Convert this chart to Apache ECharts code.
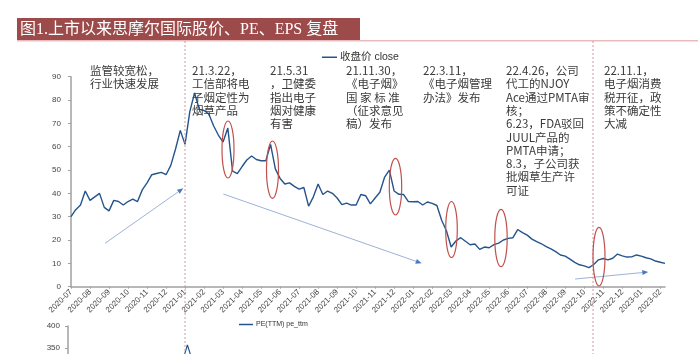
<!DOCTYPE html>
<html>
<head>
<meta charset="utf-8">
<script src="https://cdn.jsdelivr.net/npm/echarts@6/dist/echarts.min.js"></script>
<style>
html,body{margin:0;padding:0;background:#fff}
#main{width:698px;height:354px}
</style>
</head>
<body>
<div id="main"></div>
<script>
// month tick labels on the x axis
var months = ['2020-07','2020-08','2020-09','2020-10','2020-11','2020-12',
  '2021-01','2021-02','2021-03','2021-04','2021-05','2021-06','2021-07','2021-08','2021-09','2021-10','2021-11','2021-12',
  '2022-01','2022-02','2022-03','2022-04','2022-05','2022-06','2022-07','2022-08','2022-09','2022-10','2022-11','2022-12',
  '2023-01','2023-02'];
var sampleDays = ['01','08','16','23'];
var lastDays = ['01','08'];

// 收盘价 close, four readings per month
var closePrice = [30,33,35,41,37,38.5,40,34,32.5,37,
  36.5,35,36.5,37.5,36.5,41.5,44.5,48,48.5,49,
  48,52,59,67,61,75,83,76,75.5,74,
  69,65,62,68,49.5,48.5,51.5,54.3,56,54.5,
  54,54,61,50.5,46.4,44,44.5,43,41.8,42.5,
  34.5,38.5,44,39.5,41,40,38,35.2,35.8,35,
  35,39.5,39,35.5,38,40.5,47,50,41,39.6,
  39.5,36.5,36.4,36.5,35,36.3,35.7,34.8,28.5,24,
  17,19.6,21,19.5,18,18.3,16,17,16.7,18,
  18.7,20,20.7,21,24.5,23.2,22.1,20.4,19.3,18.4,
  17.2,16.2,15,13.6,13.1,11.8,10.4,9.4,8.9,8.2,
  9.5,11.5,12.1,11.5,12.2,14,13.2,12.7,12.8,13.6,
  13.1,12.4,11.9,11,10.5,10];

// PE(TTM) pe_ttm, only the top of it shows at the bottom edge
var peDates = ['2021-01-01','2021-01-08','2021-01-16'];
var peTtm = [320,357,322];
var peTicks = [350, 400];

var dates = [];
months.forEach(function (m, k) {
  var days = k === months.length - 1 ? lastDays : sampleDays;
  days.forEach(function (d) { dates.push(m + '-' + d); });
});

var cjk = '"Noto Sans CJK SC"';
var noteColor = '#3a3a3a';

function note(x, y, txt) {
  return {
    type: 'text', z: 50,
    style: { x: x, y: y, text: txt, fill: noteColor, fontSize: 11.5, fontFamily: cjk, lineHeight: 13.3, verticalAlign: 'top' }
  };
}
function ring(cx, cy, rx, ry) {
  return { type: 'ellipse', z: 50, shape: { cx: cx, cy: cy, rx: rx, ry: ry },
    style: { fill: 'none', stroke: '#c0504d', lineWidth: 1.2 } };
}
function arrow(x1, y1, x2, y2) {
  var a = Math.atan2(y2 - y1, x2 - x1), L = 6, w = 2.5;
  var bx = x2 - L * Math.cos(a), by = y2 - L * Math.sin(a);
  return [
    { type: 'line', z: 40, shape: { x1: x1, y1: y1, x2: bx, y2: by }, style: { stroke: '#9db3d6', lineWidth: 1 } },
    { type: 'polygon', z: 40, shape: { points: [[x2, y2],
      [bx + w * Math.sin(a), by - w * Math.cos(a)], [bx - w * Math.sin(a), by + w * Math.cos(a)]] },
      style: { fill: '#4a78c2' } }
  ];
}
function vline(x) {
  return { type: 'line', z: 30, shape: { x1: x, y1: 41, x2: x, y2: 354 },
    style: { stroke: '#cf9a9a', lineWidth: 1, lineDash: [2, 2] } };
}

var graphics = [
  { type: 'rect', shape: { x: 17, y: 18, width: 343, height: 22 }, style: { fill: '#9c4a4a' } },
  { type: 'rect', shape: { x: 17, y: 40, width: 681, height: 1.5 }, style: { fill: '#e8bcbc' } },
  { type: 'text', style: { x: 20, y: 29.5, text: '图1.上市以来思摩尔国际股价、PE、EPS 复盘', fill: '#fff',
    fontSize: 16, fontFamily: '"Liberation Serif",' + cjk, verticalAlign: 'middle' } },
  vline(185), vline(593),
  note(90, 64, '监管较宽松，\n行业快速发展'),
  note(192, 64, '21.3.22，\n工信部将电\n子烟定性为\n烟草产品'),
  note(270, 64, '21.5.31\n，卫健委\n指出电子\n烟对健康\n有害'),
  note(346, 64, '21.11.30，\n《电子烟》\n国 家 标 准\n（征求意见\n稿）发布'),
  note(423, 64, '22.3.11，\n《电子烟管理\n办法》发布'),
  note(506, 64, '22.4.26，公司\n代工的NJOY\nAce通过PMTA审\n核；\n6.23，FDA驳回\nJUUL产品的\nPMTA申请；\n8.3，子公司获\n批烟草生产许\n可证'),
  note(604, 64, '22.11.1，\n电子烟消费\n税开征，政\n策不确定性\n大减'),
  ring(228, 149.5, 6, 28.5),
  ring(272.5, 169.7, 6, 28.7),
  ring(395.5, 186.7, 6.2, 28.3),
  ring(451.5, 229.5, 5.8, 28),
  ring(501, 238, 6.2, 28.7),
  ring(599, 256.7, 6, 29.3)
].concat(arrow(105, 243.3, 183.3, 188.3), arrow(223.3, 194, 421.7, 263.3), arrow(575, 279, 648.3, 272));

var axisGrey = '#a0a0a0';
var chart = echarts.init(document.getElementById('main'), null, { renderer: 'canvas' });
chart.setOption({
  backgroundColor: '#fff',
  animation: false,
  textStyle: { fontFamily: '"Liberation Sans",' + cjk },
  legend: [
    { data: ['收盘价 close'], left: 317, top: 47, icon: 'rect', itemWidth: 15, itemHeight: 1.5, itemGap: 4,
      textStyle: { fontSize: 10.5, color: '#333', padding: [0, 0, 0, -2] } },
    { data: ['PE(TTM) pe_ttm'], left: 234, top: 316, icon: 'rect', itemWidth: 14, itemHeight: 1.5,
      textStyle: { fontSize: 7, color: '#333', padding: [0, 0, 0, -2] } }
  ],
  grid: [
    { left: 71, right: 33, top: 76.7, height: 210 },
    { left: 68, right: 33, top: 326, height: 28 }
  ],
  xAxis: [
    { type: 'category', gridIndex: 0, data: dates, boundaryGap: false,
      axisLine: { lineStyle: { color: axisGrey, width: 1.5 } },
      axisTick: { show: true, interval: 3, length: 2, lineStyle: { color: axisGrey } },
      axisLabel: { interval: 3, rotate: 45, fontSize: 8, color: '#444', margin: 4,
        formatter: function (v) { return v.slice(0, 7); } } },
    { type: 'category', gridIndex: 1, data: dates, boundaryGap: false, show: false }
  ],
  yAxis: [
    { type: 'value', gridIndex: 0, min: 0, max: 90, interval: 10,
      splitLine: { show: false },
      axisLine: { show: true, lineStyle: { color: axisGrey, width: 1.5 } },
      axisTick: { show: true, length: 3, lineStyle: { color: axisGrey } },
      axisLabel: { fontSize: 8, color: '#444', margin: 10 } },
    { type: 'value', gridIndex: 1, min: 336, max: 400,
      splitLine: { show: false },
      axisLine: { show: true, lineStyle: { color: axisGrey, width: 1.5 } },
      axisTick: { show: true, length: 3, customValues: peTicks, lineStyle: { color: axisGrey } },
      axisLabel: { fontSize: 8, color: '#444', margin: 8, customValues: peTicks } }
  ],
  series: [
    { name: '收盘价 close', type: 'line', xAxisIndex: 0, yAxisIndex: 0, data: closePrice,
      showSymbol: false, lineStyle: { color: '#24548a', width: 1.4 }, itemStyle: { color: '#24548a' } },
    { name: 'PE(TTM) pe_ttm', type: 'line', xAxisIndex: 1, yAxisIndex: 1,
      data: peDates.map(function (d, k) { return [d, peTtm[k]]; }),
      showSymbol: false, lineStyle: { color: '#24548a', width: 1.2 }, itemStyle: { color: '#24548a' } }
  ],
  graphic: graphics
});
</script>
</body>
</html>
